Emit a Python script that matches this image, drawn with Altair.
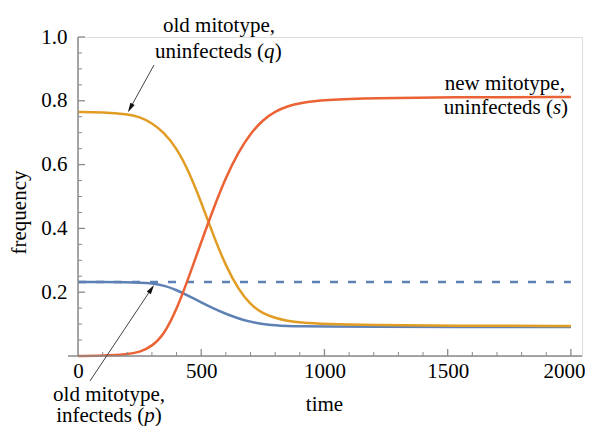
import altair as alt
import pandas as pd

# ---- data ----
time = [0, 100, 200, 250, 300, 350, 400, 450, 500, 550, 600, 650, 700, 750, 800, 850, 900, 1000, 1200, 1500, 2000]
q_old_uninfected = [0.765, 0.764, 0.758, 0.750, 0.731, 0.700, 0.652, 0.578, 0.482, 0.376, 0.282, 0.210, 0.160, 0.133, 0.119, 0.110, 0.105, 0.100, 0.097, 0.095, 0.094]
s_new_uninfected = [0.000, 0.001, 0.005, 0.012, 0.030, 0.068, 0.145, 0.248, 0.357, 0.463, 0.560, 0.638, 0.698, 0.740, 0.767, 0.783, 0.793, 0.803, 0.809, 0.811, 0.812]
p_old_infected = [0.232, 0.232, 0.231, 0.230, 0.228, 0.221, 0.207, 0.188, 0.168, 0.149, 0.132, 0.118, 0.107, 0.100, 0.096, 0.094, 0.093, 0.092, 0.092, 0.091, 0.091]
dashed_level = 0.232
dashed_span = [0, 2000]

x_labels = [0, 500, 1000, 1500, 2000]
y_labels = [0.2, 0.4, 0.6, 0.8, 1.0]
x_minor = [100, 200, 300, 400, 600, 700, 800, 900, 1100, 1200, 1300, 1400, 1600, 1700, 1800, 1900]
y_minor = [0.05, 0.1, 0.15, 0.25, 0.3, 0.35, 0.45, 0.5, 0.55, 0.65, 0.7, 0.75, 0.85, 0.9, 0.95]

BLUE, ORANGE, RED = "#5E81B5", "#E19C24", "#EB6235"
AXIS = "#8a8a8a"
FONT = "Liberation Serif"
FS = 21

W, H = 504, 319
xs = alt.Scale(domain=[0, 2045], nice=False, zero=False)
ys = alt.Scale(domain=[0, 1], nice=False)

def series(vals):
    return pd.DataFrame({"time": time, "value": vals})

x_axis = alt.Axis(values=x_labels, format="d", domain=False, ticks=False, tickSize=0, grid=False,
                  labelFlush=False, labelOverlap=False,
                  labelOffset=alt.ExprRef(expr="datum.value == 2000 ? -7 : 0"),
                  labelFont=FONT, labelFontSize=FS, labelColor="black", labelPadding=4,
                  title="time", titleFont=FONT, titleFontSize=FS, titleFontWeight="normal",
                  titleColor="black", titleX=246, titleY=54, titleAlign="center",
                  titleBaseline="alphabetic")
y_axis = alt.Axis(values=y_labels, format=".1f", domain=False, ticks=False, tickSize=0, grid=False,
                  labelFlush=False, labelOverlap=False,
                  labelFont=FONT, labelFontSize=FS, labelColor="black", labelPadding=11,
                  title="frequency", titleFont=FONT, titleFontSize=FS, titleFontWeight="normal",
                  titleColor="black", titleX=-53, titleY=175, titleAngle=270, titleAlign="center",
                  titleBaseline="alphabetic")

dashed = alt.Chart(pd.DataFrame({"t": [dashed_span[0]], "t2": [dashed_span[1]], "v": [dashed_level]})).mark_rule(
    color=BLUE, strokeWidth=2.5, strokeDash=[8, 10]).encode(
    x=alt.X("t:Q", scale=xs, axis=x_axis), x2="t2:Q", y=alt.Y("v:Q", scale=ys, axis=y_axis))

def line(vals, color):
    return alt.Chart(series(vals)).mark_line(color=color, strokeWidth=2.5, interpolate="basis").encode(
        x=alt.X("time:Q", scale=xs), y=alt.Y("value:Q", scale=ys))

blue_line = line(p_old_infected, BLUE)
orange_line = line(q_old_uninfected, ORANGE)
red_line = line(s_new_uninfected, RED)

# axis lines
y_axis_line = alt.Chart(pd.DataFrame({"a": [0]})).mark_rule(color=AXIS, strokeWidth=1.5).encode(
    x=alt.value(0), y=alt.value(0), y2=alt.value(H))
x_axis_line = alt.Chart(pd.DataFrame({"a": [0]})).mark_rule(color=AXIS, strokeWidth=1.5).encode(
    x=alt.value(-10), x2=alt.value(W), y=alt.value(H))

# inward ticks
y_major_t = alt.Chart(pd.DataFrame({"v": y_labels})).mark_rule(color=AXIS, strokeWidth=1.3).encode(
    y=alt.Y("v:Q", scale=ys), x=alt.value(0), x2=alt.value(7))
y_minor_t = alt.Chart(pd.DataFrame({"v": y_minor})).mark_rule(color=AXIS, strokeWidth=1).encode(
    y=alt.Y("v:Q", scale=ys), x=alt.value(0), x2=alt.value(4))
x_major_t = alt.Chart(pd.DataFrame({"t": x_labels[1:]})).mark_rule(color=AXIS, strokeWidth=1.3).encode(
    x=alt.X("t:Q", scale=xs), y=alt.value(H), y2=alt.value(H - 7))
x_minor_t = alt.Chart(pd.DataFrame({"t": x_minor})).mark_rule(color=AXIS, strokeWidth=1).encode(
    x=alt.X("t:Q", scale=xs), y=alt.value(H), y2=alt.value(H - 4))

# annotations
centered = pd.DataFrame({
    "t": [572, 1732, 126],
    "v": [1.016, 0.834, -0.140],
    "label": ["old mitotype,", "new mitotype,", "old mitotype,"],
})
right_parts = pd.DataFrame({
    "t": [755, 1927, 268.5],
    "v": [0.934, 0.758, -0.208],
    "label": ["uninfecteds (", "uninfecteds (", "infecteds ("],
})
italic_parts = pd.DataFrame({
    "t": [755, 1927, 268.5],
    "v": [0.934, 0.758, -0.208],
    "label": ["q", "s", "p"],
})
close_parts = pd.DataFrame({
    "t": [798, 1960, 311],
    "v": [0.934, 0.758, -0.208],
    "label": [")", ")", ")"],
})

def txt(df, align, style="normal"):
    return alt.Chart(df).mark_text(font=FONT, fontSize=FS, color="black", align=align,
                                   baseline="alphabetic", fontStyle=style).encode(
        x=alt.X("t:Q", scale=xs), y=alt.Y("v:Q", scale=ys), text="label:N")

arrows = pd.DataFrame({
    "t": [308.3, 48.7], "v": [0.912, -0.078],
    "t2": [214.6, 294.9], "v2": [0.781, 0.207],
    "ang": [209, 34],
})
arrow_lines = alt.Chart(arrows).mark_rule(color="#444444", strokeWidth=1).encode(
    x=alt.X("t:Q", scale=xs), y=alt.Y("v:Q", scale=ys), x2="t2:Q", y2="v2:Q")
arrow_heads = alt.Chart(arrows).mark_point(shape="M0,-1L0.4,0.55L-0.4,0.55Z", filled=True, size=150,
                                           color="#111111", opacity=1, strokeWidth=0).encode(
    x=alt.X("t2:Q", scale=xs), y=alt.Y("v2:Q", scale=ys), angle=alt.Angle("ang:Q", scale=None))

chart = alt.layer(
    dashed, blue_line, orange_line, red_line,
    y_axis_line, x_axis_line, y_major_t, y_minor_t, x_major_t, x_minor_t,
    arrow_lines, arrow_heads,
    txt(centered, "center"), txt(right_parts, "right"), txt(italic_parts, "left", "italic"),
    txt(close_parts, "left"),
).properties(
    width=W, height=H,
    autosize=alt.AutoSizeParams(type="none"),
    padding={"left": 70, "top": 29, "right": 3, "bottom": 70},
).configure_view(stroke=None).configure(background="white")

chart.save("out.html", embed_options={"renderer": "svg", "actions": False})
